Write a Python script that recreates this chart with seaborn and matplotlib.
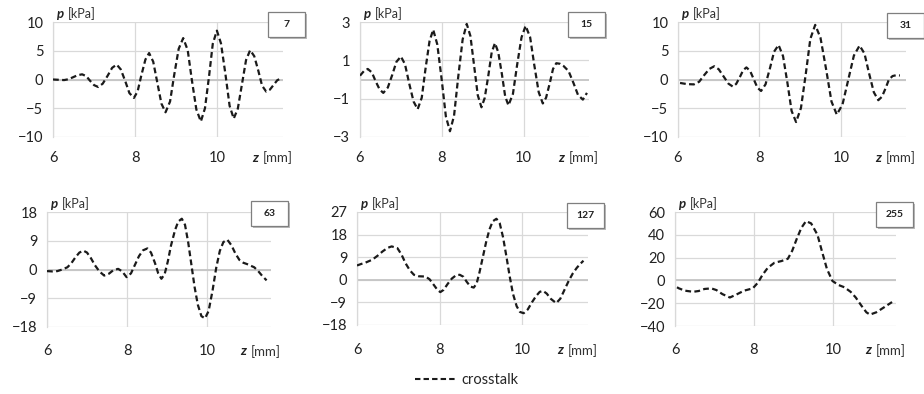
import numpy as np
import pandas as pd
import seaborn as sns
import matplotlib.pyplot as plt
from matplotlib.lines import Line2D
from matplotlib.patches import Rectangle

# values (z in mm, p in kPa)
z1 = [6.0, 6.14, 6.27, 6.38, 6.49, 6.60, 6.71, 6.81, 6.90, 7.00, 7.10, 7.21, 7.33, 7.44, 7.55,
      7.65, 7.76, 7.86, 7.97, 8.06, 8.15, 8.25, 8.34, 8.44, 8.54, 8.64, 8.74, 8.85, 8.95, 9.06,
      9.17, 9.28, 9.38, 9.49, 9.60, 9.70, 9.80, 9.89, 9.99, 10.09, 10.20, 10.30, 10.40, 10.50,
      10.60, 10.70, 10.80, 10.90, 11.00, 11.09, 11.19, 11.28, 11.37, 11.46, 11.55]
p1 = [0.0, -0.05, -0.1, 0.05, 0.4, 0.75, 0.9, 0.58, -0.2, -0.98, -1.3, -0.73, 0.65, 2.03, 2.6,
      1.76, -0.3, -2.36, -3.2, -2.07, 0.7, 3.47, 4.6, 3.1, -0.55, -4.2, -5.7, -3.83, 0.75, 5.33,
      7.2, 5.1, -0.05, -5.2, -7.3, -5.0, 0.6, 6.2, 8.5, 6.28, 0.85, -4.58, -6.8, -5.07,
      -0.85, 3.37, 5.1, 4.06, 1.5, -1.06, -2.1, -1.77, -0.95, -0.13, 0.2]

z2 = [6.0, 6.10, 6.19, 6.29, 6.38, 6.48, 6.57, 6.68, 6.79, 6.89, 7.0, 7.10, 7.20, 7.31, 7.41,
      7.51, 7.60, 7.70, 7.79, 7.89, 8.0, 8.10, 8.2, 8.30, 8.40, 8.51, 8.61, 8.70, 8.79, 8.88,
      8.97, 9.05, 9.14, 9.22, 9.30, 9.38, 9.47, 9.55, 9.63, 9.74, 9.84, 9.95, 10.05, 10.16,
      10.26, 10.37, 10.47, 10.55, 10.64, 10.72, 10.80, 10.89, 10.98, 11.10, 11.22, 11.33,
      11.45, 11.55]
p2 = [0.2, 0.45, 0.55, 0.37, -0.08, -0.52, -0.7, -0.42, 0.25, 0.92, 1.2, 0.8, -0.18, -1.15, -1.55,
      -0.95, 0.53, 2.0, 2.6, 1.83, -0.05, -1.93, -2.7, -1.89, 0.1, 2.09, 2.9, 2.27, 0.73, -0.82,
      -1.45, -0.96, 0.23, 1.41, 1.9, 1.43, 0.28, -0.88, -1.35, -0.75, 0.73, 2.2, 2.8, 2.21,
      0.78, -0.66, -1.25, -0.95, -0.2, 0.55, 0.85, 0.82, 0.7, 0.44, -0.18, -0.8,
      -1.05, -0.7]

z3 = [6.05, 6.22, 6.39, 6.52, 6.64, 6.77, 6.89, 7.0, 7.12, 7.24, 7.35, 7.43, 7.52, 7.60, 7.68,
      7.77, 7.86, 7.95, 8.04, 8.15, 8.26, 8.36, 8.47, 8.58, 8.69, 8.79, 8.90, 9.02, 9.14, 9.25,
      9.37, 9.50, 9.64, 9.77, 9.90, 10.04, 10.18, 10.32, 10.46, 10.58, 10.69, 10.81, 10.92,
      11.01, 11.10, 11.18, 11.27, 11.36, 11.45]
p3 = [-0.6, -0.8, -0.85, -0.39, 0.73, 1.84, 2.3, 1.78, 0.53, -0.73, -1.25, -0.76, 0.43, 1.61, 2.1,
      1.51, 0.05, -1.41, -2.0, -0.84, 2.0, 4.84, 6.0, 4.06, -0.7, -5.46, -7.4, -4.95, 1.05, 7.05,
      9.5, 7.24, 1.7, -3.84, -6.1, -4.36, -0.1, 4.16, 5.9, 4.52, 1.15, -2.22, -3.6,
      -2.99, -1.5, -0.01, 0.6, 0.75, 0.7]

z4 = [6.0, 6.13, 6.26, 6.38, 6.51, 6.61, 6.71, 6.81, 6.91, 7.0, 7.1, 7.2, 7.31, 7.43, 7.55,
      7.66, 7.78, 7.88, 7.99, 8.1, 8.2, 8.3, 8.4, 8.51, 8.6, 8.7, 8.78, 8.86, 8.94, 9.02,
      9.1, 9.2, 9.28, 9.37, 9.45, 9.53, 9.61, 9.69, 9.77, 9.86, 9.95, 10.04, 10.14, 10.23,
      10.32, 10.41, 10.51, 10.61, 10.71, 10.81, 10.91, 11.0, 11.09, 11.18, 11.28, 11.38, 11.49]
p4 = [-0.5, -0.6, -0.5, 0.0, 0.7, 2.0, 3.8, 5.3, 5.9, 5.3, 3.5, 1.3, -0.6, -1.9, -1.3,
      -0.2, 0.2, -0.6, -2.4, -1.2, 1.5, 4.2, 6.0, 6.6, 5.3, 2.0, -1.2, -2.9, -1.5, 2.5,
      7.5, 12.3, 15.0, 15.9, 14.0, 8.5, 1.5, -5.5, -11.0, -14.6, -15.3, -13.0, -6.5, 0.5,
      5.8, 8.6, 9.3, 7.6, 5.0, 3.0, 2.1, 1.7, 1.2, 0.7, -0.5, -2.0, -3.4]

z5 = [6.0, 6.1, 6.2, 6.37, 6.5, 6.62, 6.74, 6.84, 6.98, 7.08, 7.18, 7.28, 7.38, 7.5, 7.66,
      7.76, 7.86, 7.95, 8.02, 8.1, 8.2, 8.3, 8.4, 8.49, 8.58, 8.66, 8.75, 8.83, 8.9, 8.97,
      9.05, 9.13, 9.21, 9.29, 9.38, 9.46, 9.54, 9.62, 9.7, 9.78, 9.87, 9.95, 10.04, 10.14,
      10.24, 10.34, 10.43, 10.51, 10.6, 10.7, 10.83, 10.93, 11.03, 11.13, 11.23, 11.33,
      11.41, 11.49]
p5 = [5.7, 6.3, 6.8, 8.0, 9.6, 11.3, 12.7, 13.3, 12.6, 10.0, 6.5, 3.8, 2.0, 1.4, 1.3,
      0.2, -2.0, -4.0, -4.9, -4.0, -1.6, 0.5, 1.8, 2.0, 1.2, -0.8, -2.7, -3.1, -1.5, 3.0,
      9.0, 15.0, 20.0, 23.3, 24.3, 22.5, 17.0, 9.5, 1.5, -5.5, -10.5, -12.8, -13.3, -11.8,
      -9.0, -6.5, -4.8, -4.4, -5.5, -7.6, -9.3, -7.5, -4.0, -0.5, 2.5, 4.8,
      6.3, 7.6]

z6 = [6.05, 6.1, 6.25, 6.46, 6.6, 6.75, 6.92, 7.05, 7.2, 7.39, 7.55, 7.75, 7.97, 8.1, 8.22,
      8.35, 8.52, 8.7, 8.86, 8.97, 9.08, 9.2, 9.32, 9.45, 9.61, 9.72, 9.85, 9.99, 10.14,
      10.29, 10.45, 10.58, 10.72, 10.85, 10.94, 11.1, 11.28, 11.5]
p6 = [-6, -7, -9, -10, -9.3, -7.5, -7, -8.5, -12, -15, -12.5, -9, -7, -2, 5,
      11, 15.5, 17, 19, 26, 36, 46, 52, 50, 40, 26, 10, -0.5, -4,
      -6, -10, -15, -22, -28, -30, -28, -24, -19]

labels = ['7', '15', '31', '63', '127', '255']
yticks = [[-10, -5, 0, 5, 10], [-3, -1, 1, 3], [-10, -5, 0, 5, 10],
          [-18, -9, 0, 9, 18], [-18, -9, 0, 9, 18, 27], [-40, -20, 0, 20, 40, 60]]
xticks = [6, 8, 10]

zs = [z1, z2, z3, z4, z5, z6]
ps = [p1, p2, p3, p4, p5, p6]

# panel boxes in pixels: left, top, right, bottom
W, H = 924, 394
boxes = [(53, 22, 283, 137), (360, 22, 589, 137), (678, 22, 906, 137),
         (47, 212, 271, 327), (357, 212, 588, 325), (675, 212, 896, 326)]
tags = [(268, 12), (568, 12), (887, 13), (251, 201), (567, 203), (876, 202)]
xpads = [10, 10, 10, 12.5, 13, 12.5]

sns.set_style('white')
plt.rcParams['font.family'] = ['Lato', 'DejaVu Sans']

fig = plt.figure(figsize=(W / 100, H / 100), dpi=100)
grid = '#d9d9d9'
ls = (0, (2.6, 1.5))

for i in range(6):
    l, t, r, b = boxes[i]
    ax = fig.add_axes([l / W, 1 - b / H, (r - l) / W, (b - t) / H])
    df = pd.DataFrame({'z': zs[i], 'p': ps[i]})
    sns.lineplot(data=df, x='z', y='p', ax=ax, color='#1a1a1a', linewidth=1.6,
                 linestyle=ls, sort=False, zorder=5)
    yt = yticks[i]
    ax.set_xlim(6, 11.6)
    ax.set_ylim(min(yt), max(yt))
    ax.set_yticks(yt)
    ax.set_xticks(xticks)
    ax.set_xticklabels([str(x) for x in xticks])
    ax.set_xlabel('')
    ax.set_ylabel('')
    ax.grid(True, color=grid, linewidth=0.9)
    ax.axhline(0, color='#c4c4c4', linewidth=1.3, zorder=2)
    for s in ['top', 'right', 'bottom']:
        ax.spines[s].set_visible(False)
    ax.spines['left'].set_color(grid)
    ax.spines['left'].set_linewidth(0.9)
    ax.tick_params(axis='y', length=3, color=grid, pad=4, labelsize=10.5, labelcolor='#222222')
    ax.tick_params(axis='x', length=0, pad=xpads[i], labelsize=10.5, labelcolor='#222222')

    # axis titles
    fig.text((l + 4) / W, 1 - (t - 8) / H, 'p', fontsize=9.5, fontweight='bold',
             fontstyle='italic', va='center', ha='left', color='#222222')
    fig.text((l + 15) / W, 1 - (t - 8) / H, '[kPa]', fontsize=9, va='center',
             ha='left', color='#333333')
    xl_y = b + xpads[i] * 1.39 + 7
    fig.text((r - 31) / W, 1 - xl_y / H, 'z', fontsize=10, fontweight='bold',
             fontstyle='italic', va='center', ha='left', color='#222222')
    fig.text((r - 20) / W, 1 - xl_y / H, '[mm]', fontsize=9.5, va='center',
             ha='left', color='#333333')

    # number box
    tx, ty = tags[i]
    fig.patches.append(Rectangle(((tx + 2) / W, 1 - (ty + 27) / H), 37 / W, 25 / H,
                                 transform=fig.transFigure, facecolor='#bbbbbb',
                                 edgecolor='none', zorder=1))
    fig.patches.append(Rectangle((tx / W, 1 - (ty + 25) / H), 37 / W, 25 / H,
                                 transform=fig.transFigure, facecolor='white',
                                 edgecolor='#7f7f7f', linewidth=0.9, zorder=2))
    fig.text((tx + 18.5) / W, 1 - (ty + 12.5) / H, labels[i], fontsize=7.5,
             fontweight='bold', ha='center', va='center', color='#222222', zorder=3)

handle = Line2D([], [], color='#1a1a1a', linewidth=1.5, linestyle=ls)
fig.legend(handles=[handle], labels=['crosstalk'], loc='center',
           bbox_to_anchor=(467 / W, 1 - 380 / H), frameon=False, fontsize=10.5,
           handlelength=2.7, handletextpad=0.5)

fig.savefig('out.png', dpi=100)
